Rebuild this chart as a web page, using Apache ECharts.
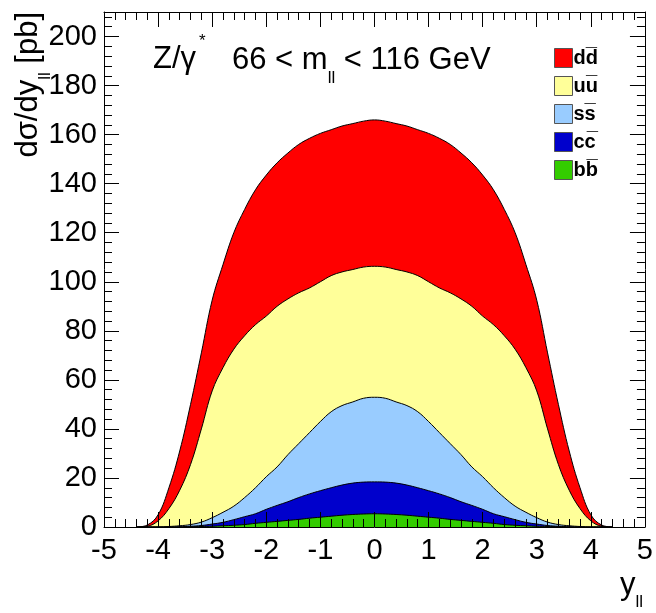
<!DOCTYPE html>
<html>
<head>
<meta charset="utf-8">
<script src="https://cdn.jsdelivr.net/npm/echarts@6/dist/echarts.min.js"></script>
<style>html,body{margin:0;padding:0;background:#fff}#c{width:656px;height:613px}</style>
</head>
<body>
<div id="c"></div>
<script>
// rapidity bin centres
var yll = [-4.4,-4.2,-4.0,-3.8,-3.6,-3.4,-3.2,-3.0,-2.8,-2.6,-2.4,-2.2,-2.0,-1.8,-1.6,-1.4,-1.2,-1.0,-0.8,-0.6,-0.4,-0.2,0,
           0.2,0.4,0.6,0.8,1.0,1.2,1.4,1.6,1.8,2.0,2.2,2.4,2.6,2.8,3.0,3.2,3.4,3.6,3.8,4.0,4.2,4.4];
// contributions (pb), stacked bottom -> top: bbar, ccbar, ssbar, uubar, ddbar
var bb = [0,0,0,0,0,0.1,0.2,0.3,0.5,0.7,1.0,1.5,1.9,2.3,2.7,3.1,3.6,4.0,4.4,4.8,5.1,5.3,5.4,
          5.3,5.1,4.8,4.4,4.0,3.6,3.1,2.7,2.3,1.9,1.5,1.0,0.7,0.5,0.3,0.2,0.1,0,0,0,0,0];
var cc = [0,0,0,0,0.1,0.2,0.4,0.9,1.4,2.3,3.2,3.9,5.3,6.5,7.6,8.9,9.9,10.8,11.6,12.3,12.8,13.0,13.0,
          13.0,12.8,12.3,11.6,10.8,9.9,8.9,7.6,6.5,5.3,3.9,3.2,2.3,1.4,0.9,0.4,0.2,0.1,0,0,0,0];
var ss = [0,0,0,0.2,0.4,0.7,1.4,2.6,4.1,5.5,7.8,10.6,13.3,15.7,19.2,22.0,25.0,28.2,31.0,32.4,33.1,34.2,34.5,
          34.2,33.1,32.4,31.0,28.2,25.0,22.0,19.2,15.7,13.3,10.6,7.8,5.5,4.1,2.6,1.4,0.7,0.4,0.2,0,0,0];
var uu = [0,0.3,2.5,7.3,14.5,24.5,38.0,51.7,59.0,64.0,66.0,66.5,65.5,65.5,63.5,61.5,59.0,57.0,55.5,54.5,54.0,53.5,53.4,
          53.5,54.0,54.5,55.5,57.0,59.0,61.5,63.5,65.5,65.5,66.5,66.0,64.0,59.0,51.7,38.0,24.5,14.5,7.3,2.5,0.3,0];
var dd = [0,0.5,2.5,8.5,16.0,24.5,31.0,37.0,42.0,47.5,51.5,55.0,57.5,58.5,59.5,60.5,61.0,60.5,59.5,59.5,59.5,59.5,59.7,
          59.5,59.5,59.5,59.5,60.5,61.0,60.5,59.5,58.5,57.5,55.0,51.5,47.5,42.0,37.0,31.0,24.5,16.0,8.5,2.5,0.5,0];
var names = ['dd\u0305', 'uu\u0305', 'ss\u0305', 'cc\u0305', 'bb\u0305'];
var colors = ['#ff0000', '#ffff99', '#99ccff', '#0000cc', '#33cc00'];
var xTicks = [-5, 5, 1];
var yTicks = [0, 210, 20];

var FONT = 'Liberation Sans, Arial, Helvetica, sans-serif';
// cumulative sums (stack bottom -> top: b, c, s, u, d)
var order = [bb, cc, ss, uu, dd];
var cum = [];
var run = yll.map(function () { return 0; });
order.forEach(function (arr) {
  run = run.map(function (v, i) { return v + arr[i]; });
  cum.push(run.slice());
});
function mk(name, vals, color) {
  return {
    name: name, type: 'line', symbol: 'none', smooth: 0.4,
    data: yll.map(function (x, i) { return [x, vals[i]]; }),
    lineStyle: { color: '#000', width: 1 },
    itemStyle: { color: color },
    areaStyle: { color: color, opacity: 1 },
    emphasis: { disabled: true }
  };
}
// draw tallest first so lower bands overlay it
var series = [
  mk(names[0], cum[4], colors[0]),
  mk(names[1], cum[3], colors[1]),
  mk(names[2], cum[2], colors[2]),
  mk(names[3], cum[1], colors[3]),
  mk(names[4], cum[0], colors[4])
];
function axX(pos, show) {
  return {
    type: 'value', position: pos, min: xTicks[0], max: xTicks[1], interval: xTicks[2],
    axisLine: { show: true, onZero: false, lineStyle: { color: '#000', width: 1 } },
    axisTick: { show: true, inside: true, length: 15, lineStyle: { color: '#000' } },
    minorTick: { show: true, splitNumber: 5, length: 8, lineStyle: { color: '#000' } },
    splitLine: { show: false },
    axisLabel: { show: show, color: '#000', fontSize: 29, fontFamily: FONT, margin: 9 },
    z: 10
  };
}
function axY(pos, show) {
  return {
    type: 'value', position: pos, min: yTicks[0], max: yTicks[1], interval: yTicks[2],
    axisLine: { show: true, onZero: false, lineStyle: { color: '#000', width: 1 } },
    axisTick: { show: true, inside: true, length: 15, lineStyle: { color: '#000' } },
    minorTick: { show: true, splitNumber: 5, length: 8, lineStyle: { color: '#000' } },
    splitLine: { show: false },
    axisLabel: { show: show, color: '#000', fontSize: 29, fontFamily: FONT, margin: 7,
      formatter: function (v) { return v % 20 === 0 ? String(v) : ''; } },
    z: 10
  };
}
var chart = echarts.init(document.getElementById('c'), null, { renderer: 'canvas' });
chart.setOption({
  animation: false,
  grid: { left: 104, right: 7, top: 12, bottom: 86 },
  xAxis: [axX('bottom', true), axX('top', false)],
  yAxis: [axY('left', true), axY('right', false)],
  legend: {
    data: names, orient: 'vertical', left: 549, top: 43, icon: 'rect',
    itemWidth: 18, itemHeight: 19, itemGap: 8,
    itemStyle: { borderColor: '#555', borderWidth: 1 },
    textStyle: { fontSize: 20, fontWeight: 'bold', color: '#000', fontFamily: FONT, padding: [4, 0, 0, -4] },
    selectedMode: false
  },
  series: series,
  graphic: [
    { type: 'text', x: 153, y: 59, style: { text: 'Z/\u03b3', font: '31px ' + FONT, fill: '#000', verticalAlign: 'middle' } },
    { type: 'text', x: 199, y: 41, style: { text: '*', font: '17px ' + FONT, fill: '#000', verticalAlign: 'middle' } },
    { type: 'text', x: 232, y: 59, style: {
        text: '{a|66 < m}{s|ll}{a| < 116 GeV}', verticalAlign: 'middle', fill: '#000',
        rich: { a: { fontSize: 31, fontFamily: FONT, lineHeight: 34, verticalAlign: 'bottom' },
                s: { fontSize: 17, fontFamily: FONT, lineHeight: 34, verticalAlign: 'bottom', padding: [0, 0, -11, 0] } } } },
    { type: 'text', x: 44, y: 12, rotation: Math.PI / 2, style: {
        text: '{a|d\u03c3/dy}{s|ll}{a| [pb]}', align: 'right', verticalAlign: 'bottom', fill: '#000',
        rich: { a: { fontSize: 31, fontFamily: FONT, lineHeight: 34, verticalAlign: 'bottom' },
                s: { fontSize: 17, fontFamily: FONT, lineHeight: 34, verticalAlign: 'bottom', padding: [0, 0, -10, 0] } } } },
    { type: 'text', x: 643, y: 601, style: {
        text: '{a|y}{s|ll}', align: 'right', verticalAlign: 'bottom', fill: '#000',
        rich: { a: { fontSize: 31, fontFamily: FONT, lineHeight: 34, verticalAlign: 'bottom' },
                s: { fontSize: 17, fontFamily: FONT, lineHeight: 34, verticalAlign: 'bottom', padding: [0, 0, -10, 0] } } } }
  ]
});
</script>
</body>
</html>
